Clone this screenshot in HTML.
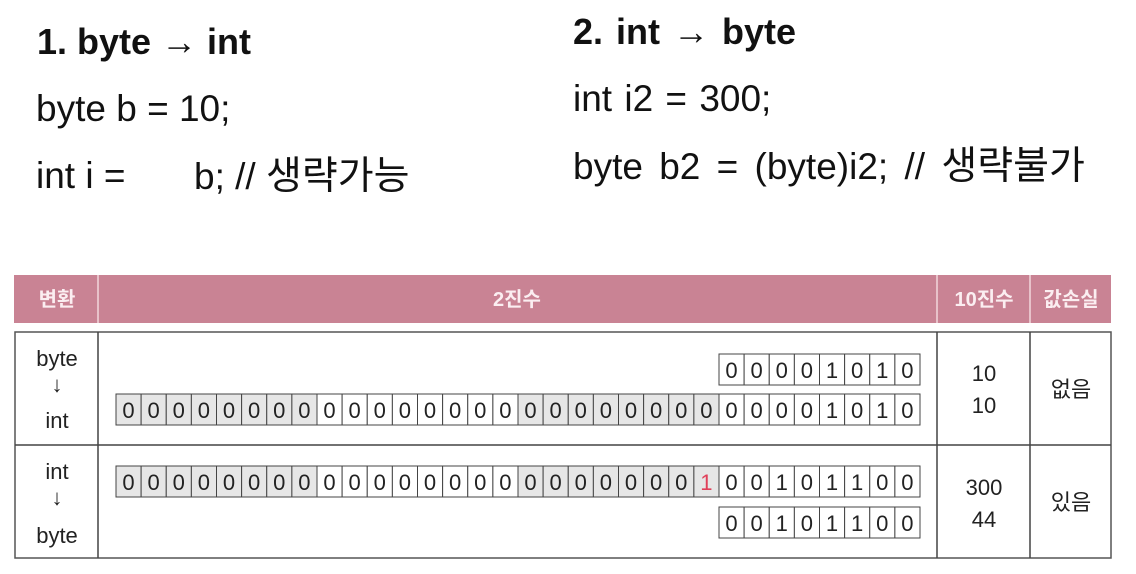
<!DOCTYPE html>
<html><head><meta charset="utf-8"><style>
body{margin:0;width:1136px;height:574px;background:#fff;overflow:hidden;position:relative;font-family:"Liberation Sans","Noto Sans CJK KR",sans-serif;color:#111}
.t{position:absolute;font-size:37px;white-space:pre;line-height:1}
.k{font-size:39px}
</style></head><body>
<div class="t" style="left:37px;top:24px;font-weight:bold;font-size:36px">1. byte → int</div>
<div class="t" style="left:36px;top:90px">byte b = 10;</div>
<div class="t" style="left:36px;top:157px">int i =</div>
<div class="t" style="left:194px;top:157px">b; // <span class="k">생략가능</span></div>
<div class="t" style="left:573px;top:14px;font-weight:bold;font-size:36px;word-spacing:3px">2. int → byte</div>
<div class="t" style="left:573px;top:80px;word-spacing:2px">int i2 = 300;</div>
<div class="t" style="left:573px;top:147px;word-spacing:6px">byte b2 = (byte)i2; // <span class="k">생략불가</span></div>
<svg width="1136" height="574" style="position:absolute;left:0;top:0" font-family="Liberation Sans, Noto Sans CJK KR, sans-serif">
<rect x="14" y="275" width="1097" height="48" fill="#c98394"/>
<line x1="98" y1="275" x2="98" y2="323" stroke="#f2d6dc" stroke-width="1.5"/>
<line x1="937" y1="275" x2="937" y2="323" stroke="#f2d6dc" stroke-width="1.5"/>
<line x1="1030" y1="275" x2="1030" y2="323" stroke="#f2d6dc" stroke-width="1.5"/>
<g fill="#fbeef1" font-size="20" font-weight="bold" text-anchor="middle">
<text x="57" y="306">변환</text><text x="517" y="306">2진수</text><text x="984" y="306">10진수</text><text x="1071" y="306">값손실</text>
</g>
<rect x="15" y="332" width="1096" height="226" fill="none" stroke="#555" stroke-width="1.5"/>
<line x1="15" y1="445" x2="1111" y2="445" stroke="#444" stroke-width="1.5"/>
<line x1="98" y1="332" x2="98" y2="558" stroke="#444" stroke-width="1.5"/>
<line x1="937" y1="332" x2="937" y2="558" stroke="#444" stroke-width="1.5"/>
<line x1="1030" y1="332" x2="1030" y2="558" stroke="#444" stroke-width="1.5"/>
<g font-size="22" text-anchor="middle" fill="#222">
<text x="57" y="366">byte</text><text x="57" y="392">↓</text><text x="57" y="428">int</text>
<text x="57" y="479">int</text><text x="57" y="505">↓</text><text x="57" y="543">byte</text>
<text x="984" y="381">10</text><text x="984" y="413">10</text><text x="1071" y="397">없음</text>
<text x="984" y="495">300</text><text x="984" y="527">44</text><text x="1071" y="510">있음</text>
</g>
<g id="cells" font-size="22" text-anchor="middle" stroke-width="1"></g>
</svg>
<script>
var g=document.getElementById('cells'),s='';
function row(bits,y,start,red){for(var i=0;i<bits.length;i++){var idx=start+i,x=116+idx*25.125;var grey=(idx<8||(idx>=16&&idx<24));s+='<rect x="'+x+'" y="'+y+'" width="25.125" height="31" fill="'+(grey?'#e6e6e6':'#fff')+'" stroke="#444"/>';s+='<text x="'+(x+12.5)+'" y="'+(y+24)+'" fill="'+(idx===red?'#e0405a':'#222')+'">'+bits[i]+'</text>';}}
row('00001010',354,24,-1);
row('00000000000000000000000000001010',394,0,-1);
row('00000000000000000000000100101100',466,0,23);
row('00101100',507,24,-1);
g.innerHTML=s;
</script>
</body></html>
